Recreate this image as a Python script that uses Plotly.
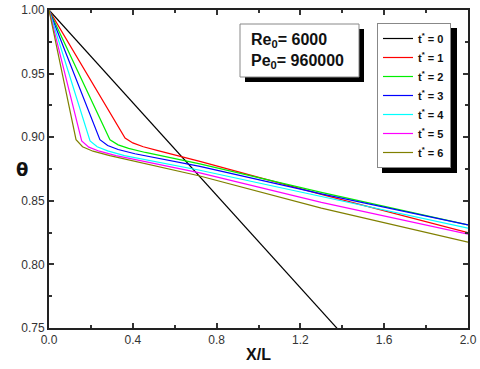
import plotly.graph_objects as go

# ---- data ----
x_t0 = [0.0, 2.0]
y_t0 = [1.0, 0.636]

x_t1 = [0.0, 0.363, 0.40, 0.45, 0.52, 0.72, 1.3, 2.0]
y_t1 = [1.0, 0.8994, 0.8955, 0.8925, 0.8895, 0.881, 0.855, 0.825]

x_t2 = [0.0, 0.291, 0.33, 0.38, 0.46, 0.72, 1.3, 2.0]
y_t2 = [1.0, 0.898, 0.894, 0.8912, 0.888, 0.879, 0.8566, 0.831]

x_t3 = [0.0, 0.243, 0.28, 0.33, 0.41, 0.72, 1.3, 2.0]
y_t3 = [1.0, 0.898, 0.8935, 0.8903, 0.887, 0.877, 0.8555, 0.8311]

x_t4 = [0.0, 0.196, 0.23, 0.28, 0.36, 0.72, 1.3, 2.0]
y_t4 = [1.0, 0.897, 0.8925, 0.8893, 0.8855, 0.874, 0.8534, 0.8285]

x_t5 = [0.0, 0.156, 0.19, 0.24, 0.32, 0.72, 1.3, 2.0]
y_t5 = [1.0, 0.897, 0.8922, 0.889, 0.8855, 0.872, 0.8487, 0.8238]

x_t6 = [0.0, 0.129, 0.16, 0.21, 0.29, 0.72, 1.3, 2.0]
y_t6 = [1.0, 0.898, 0.8925, 0.889, 0.8855, 0.8695, 0.8442, 0.8175]

series_names = ["t<sup>*</sup> = 0", "t<sup>*</sup> = 1", "t<sup>*</sup> = 2", "t<sup>*</sup> = 3",
                "t<sup>*</sup> = 4", "t<sup>*</sup> = 5", "t<sup>*</sup> = 6"]
series_x = [x_t0, x_t1, x_t2, x_t3, x_t4, x_t5, x_t6]
series_y = [y_t0, y_t1, y_t2, y_t3, y_t4, y_t5, y_t6]
colors = ["#000000", "#ff0000", "#00ee00", "#0000ff", "#00ffff", "#ff00ff", "#808000"]

x_ticks = [0.0, 0.4, 0.8, 1.2, 1.6, 2.0]
y_ticks = [0.75, 0.80, 0.85, 0.90, 0.95, 1.00]

fig = go.Figure()
for xs, ys, name, c in zip(series_x, series_y, series_names, colors):
    fig.add_trace(go.Scatter(x=xs, y=ys, mode="lines", name=name,
                             line=dict(color=c, width=1.2)))

L, R, T, B = 49, 12, 10, 41
W, H = 480, 369
pw, ph = W - L - R, H - T - B

def px2x(px):
    return (px - L) / pw

def px2y(py):
    return (H - B - py) / ph

axis_common = dict(showgrid=False, zeroline=False, showline=True, linecolor="#222",
                   linewidth=2, mirror="ticks", ticks="inside", ticklen=5,
                   tickwidth=1.5, tickcolor="#333", automargin=False,
                   tickfont=dict(family="Liberation Sans, Arial", size=12, color="#333"))

fig.update_xaxes(range=[0, 2.0], tickvals=x_ticks, tickformat=".1f",
                 minor=dict(ticks="inside", dtick=0.2, ticklen=3, tickcolor="#333"),
                 title=dict(text="<b>X/L</b>", font=dict(family="Liberation Sans, Arial", size=16, color="#111"),
                            standoff=2),
                 **axis_common)
fig.update_yaxes(range=[0.75, 1.0], tickvals=y_ticks, tickformat=".2f",
                 minor=dict(ticks="inside", dtick=0.025, ticklen=3, tickcolor="#333"),
                 **axis_common)

# text box with shadow
fig.add_shape(type="rect", xref="paper", yref="paper",
              x0=px2x(245), x1=px2x(364), y0=px2y(82), y1=px2y(29),
              fillcolor="black", line=dict(width=0), layer="above")
fig.add_shape(type="rect", xref="paper", yref="paper",
              x0=px2x(240), x1=px2x(359), y0=px2y(77), y1=px2y(24),
              fillcolor="white", line=dict(color="#888", width=1), layer="above")
fig.add_annotation(xref="paper", yref="paper", x=px2x(249), y=px2y(50.5),
                   xanchor="left", yanchor="middle", align="left", showarrow=False,
                   text="<b>Re<sub>0</sub>= 6000</b><br><b>Pe<sub>0</sub>= 960000</b>",
                   font=dict(family="Liberation Sans, Arial", size=16, color="#111"))

# legend shadow
fig.add_shape(type="rect", xref="paper", yref="paper",
              x0=px2x(382), x1=px2x(457), y0=px2y(173), y1=px2y(28),
              fillcolor="black", line=dict(width=0), layer="above")

fig.add_annotation(xref="paper", yref="paper", x=0, y=0.5, xshift=-27,
                   xanchor="center", yanchor="middle", showarrow=False,
                   text="<b>θ</b>", font=dict(family="DejaVu Sans", size=18, color="#111"))

fig.update_layout(
    width=W, height=H,
    margin=dict(l=L, r=R, t=T, b=B, autoexpand=False),
    paper_bgcolor="white", plot_bgcolor="white",
    showlegend=True,
    legend=dict(x=px2x(377), y=px2y(23), xanchor="left", yanchor="top",
                bgcolor="white", bordercolor="#888", borderwidth=1,
                font=dict(family="Liberation Sans, Arial", size=11, color="#111", weight="bold"),
                itemwidth=30, tracegroupgap=0),
)

fig.write_html("out.html", config={"displayModeBar": False},
               post_script="document.body.style.margin='0';document.body.style.padding='0';document.documentElement.style.overflow='hidden';")
